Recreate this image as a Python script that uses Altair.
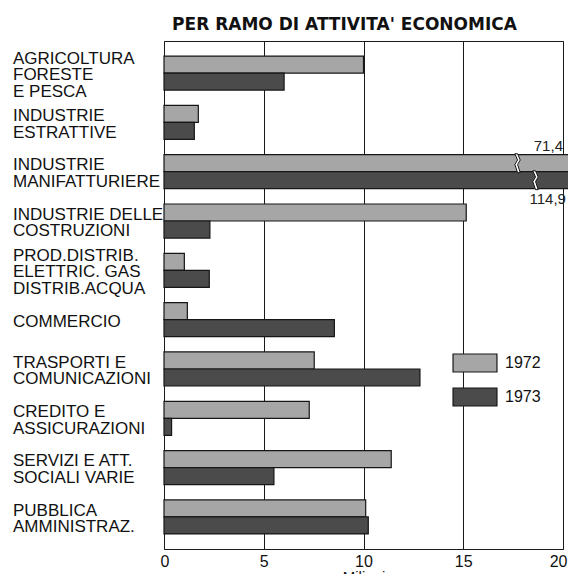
import altair as alt
import pandas as pd

CATEGORIES = [
    "AGRICOLTURA|FORESTE|E  PESCA",
    "INDUSTRIE|ESTRATTIVE",
    "INDUSTRIE|MANIFATTURIERE",
    "INDUSTRIE DELLE|COSTRUZIONI",
    "PROD.DISTRIB.|ELETTRIC. GAS|DISTRIB.ACQUA",
    "COMMERCIO",
    "TRASPORTI E|COMUNICAZIONI",
    "CREDITO E|ASSICURAZIONI",
    "SERVIZI E ATT.|SOCIALI VARIE",
    "PUBBLICA|AMMINISTRAZ.",
]
YEARS = ["1972", "1973"]
VALUES_1972 = [10.0, 1.72, 71.4, 15.15, 1.02, 1.17, 7.53, 7.28, 11.39, 10.11]
VALUES_1973 = [6.02, 1.52, 114.9, 2.3, 2.27, 8.54, 12.83, 0.38, 5.51, 10.24]
AXIS_TICKS = [0, 5, 10, 15, 20]
AXIS_MAX = 20
# broken-bar styling for values beyond the axis
BREAK_AT = {"1972": 17.7, "1973": 18.6}
BREAK_END = {"1972": 20.3, "1973": 20.6}
COLORS = ["#a6a6a6", "#4b4b4b"]

rows = []
for year, vals in zip(YEARS, [VALUES_1972, VALUES_1973]):
    for cat, v in zip(CATEGORIES, vals):
        broken = v > AXIS_MAX
        rows.append({
            "category": cat,
            "year": year,
            "value": v,
            "shown": BREAK_END[year] if broken else v,
            "brk": BREAK_AT[year] if broken else None,
            "broken": broken,
            "label": f"{v:.1f}".replace(".", ","),
        })
df = pd.DataFrame(rows)

cat_df = pd.DataFrame({
    "category": CATEGORIES,
    "nlines": [c.count("|") + 1 for c in CATEGORIES],
})

FONT = "Liberation Sans"
LINE_H = 16.5

x_enc = alt.X(
    "shown:Q",
    scale=alt.Scale(domain=[0, AXIS_MAX], nice=False, zero=True),
    axis=alt.Axis(
        values=AXIS_TICKS, grid=True, gridColor="#1a1a1a", gridWidth=1,
        gridOpacity=1, domain=True, domainColor="#1a1a1a", ticks=False,
        labelFontSize=16, labelFont=FONT, labelColor="#111", labelPadding=4,
        labelFlush=True, labelFlushOffset=4,
        title="Milioni", titleFont=FONT, titleFontSize=15,
        titleFontWeight="normal", titleColor="#111", titlePadding=0,
    ),
)
y_enc = alt.Y(
    "category:N",
    sort=CATEGORIES,
    scale=alt.Scale(paddingInner=0.31, paddingOuter=0.305),
    axis=alt.Axis(title=None, domain=False, ticks=False, grid=False, labels=False),
)
yoff_enc = alt.YOffset("year:N", sort=YEARS, scale=alt.Scale(paddingInner=0, paddingOuter=0))

base = alt.Chart(df)

bars = base.mark_bar(stroke="#161616", strokeWidth=1.2).encode(
    x=x_enc,
    y=y_enc,
    yOffset=yoff_enc,
    color=alt.Color(
        "year:N",
        scale=alt.Scale(domain=YEARS, range=COLORS),
        legend=alt.Legend(
            title=None, orient="none", legendX=301, legendY=312, padding=0,
            symbolType="M-2.44,-1H2.44V1H-2.44Z", symbolSize=324,
            symbolStrokeColor="#161616", symbolStrokeWidth=1.2,
            labelFont=FONT, labelFontSize=16, labelColor="#111",
            labelOffset=20, rowPadding=10,
        ),
    ),
)

breaks = base.transform_filter("datum.broken").mark_point(
    shape="M-0.25,-1.05L0.05,-0.35L-0.25,0.15L0.05,1.05L0.35,1.05L0.05,0.15L0.35,-0.35L0.05,-1.05Z",
    size=324, filled=True, fill="white", stroke="#161616", strokeWidth=1, opacity=1,
).encode(
    x=alt.X("brk:Q"),
    y=alt.Y("category:N", sort=CATEGORIES),
    yOffset=alt.YOffset("year:N", sort=YEARS),
)

lab72 = base.transform_filter("datum.broken && datum.year == '1972'").mark_text(
    align="right", baseline="middle", dx=-6, dy=-17, font=FONT, fontSize=15, color="#222",
).encode(
    x=alt.X("shown:Q"),
    y=alt.Y("category:N", sort=CATEGORIES),
    yOffset=alt.YOffset("year:N", sort=YEARS),
    text="label:N",
)
lab73 = base.transform_filter("datum.broken && datum.year == '1973'").mark_text(
    align="right", baseline="middle", dx=-9, dy=19, font=FONT, fontSize=15, color="#222",
).encode(
    x=alt.X("shown:Q"),
    y=alt.Y("category:N", sort=CATEGORIES),
    yOffset=alt.YOffset("year:N", sort=YEARS),
    text="label:N",
)

cat_base = alt.Chart(cat_df).transform_calculate(lines="split(datum.category, '|')")
cat_layers = []
for n in (1, 2, 3):
    cat_layers.append(
        cat_base.transform_filter(f"datum.nlines == {n}").mark_text(
            align="left", baseline="middle", dy=2 - (n - 1) * LINE_H / 2,
            lineHeight=LINE_H, font=FONT, fontSize=17, color="#111",
        ).encode(
            x=alt.value(-151),
            y=alt.Y("category:N", sort=CATEGORIES),
            text="lines:N",
        )
    )

chart = alt.layer(bars, breaks, lab72, lab73, *cat_layers).properties(
    width=399,
    height=508,
    autosize=alt.AutoSizeParams(type="none"),
    padding={"left": 156, "top": 33, "right": 5, "bottom": 25},
    background="white",
    title=alt.TitleParams(
        "PER RAMO DI ATTIVITA' ECONOMICA", anchor="middle", font="DejaVu Sans",
        fontSize=17, fontWeight="bold", color="#111", offset=7, dx=-19,
    ),
).configure_view(stroke="#1a1a1a", strokeWidth=1)

chart.save("out.html", embed_options={"renderer": "svg", "actions": False})
